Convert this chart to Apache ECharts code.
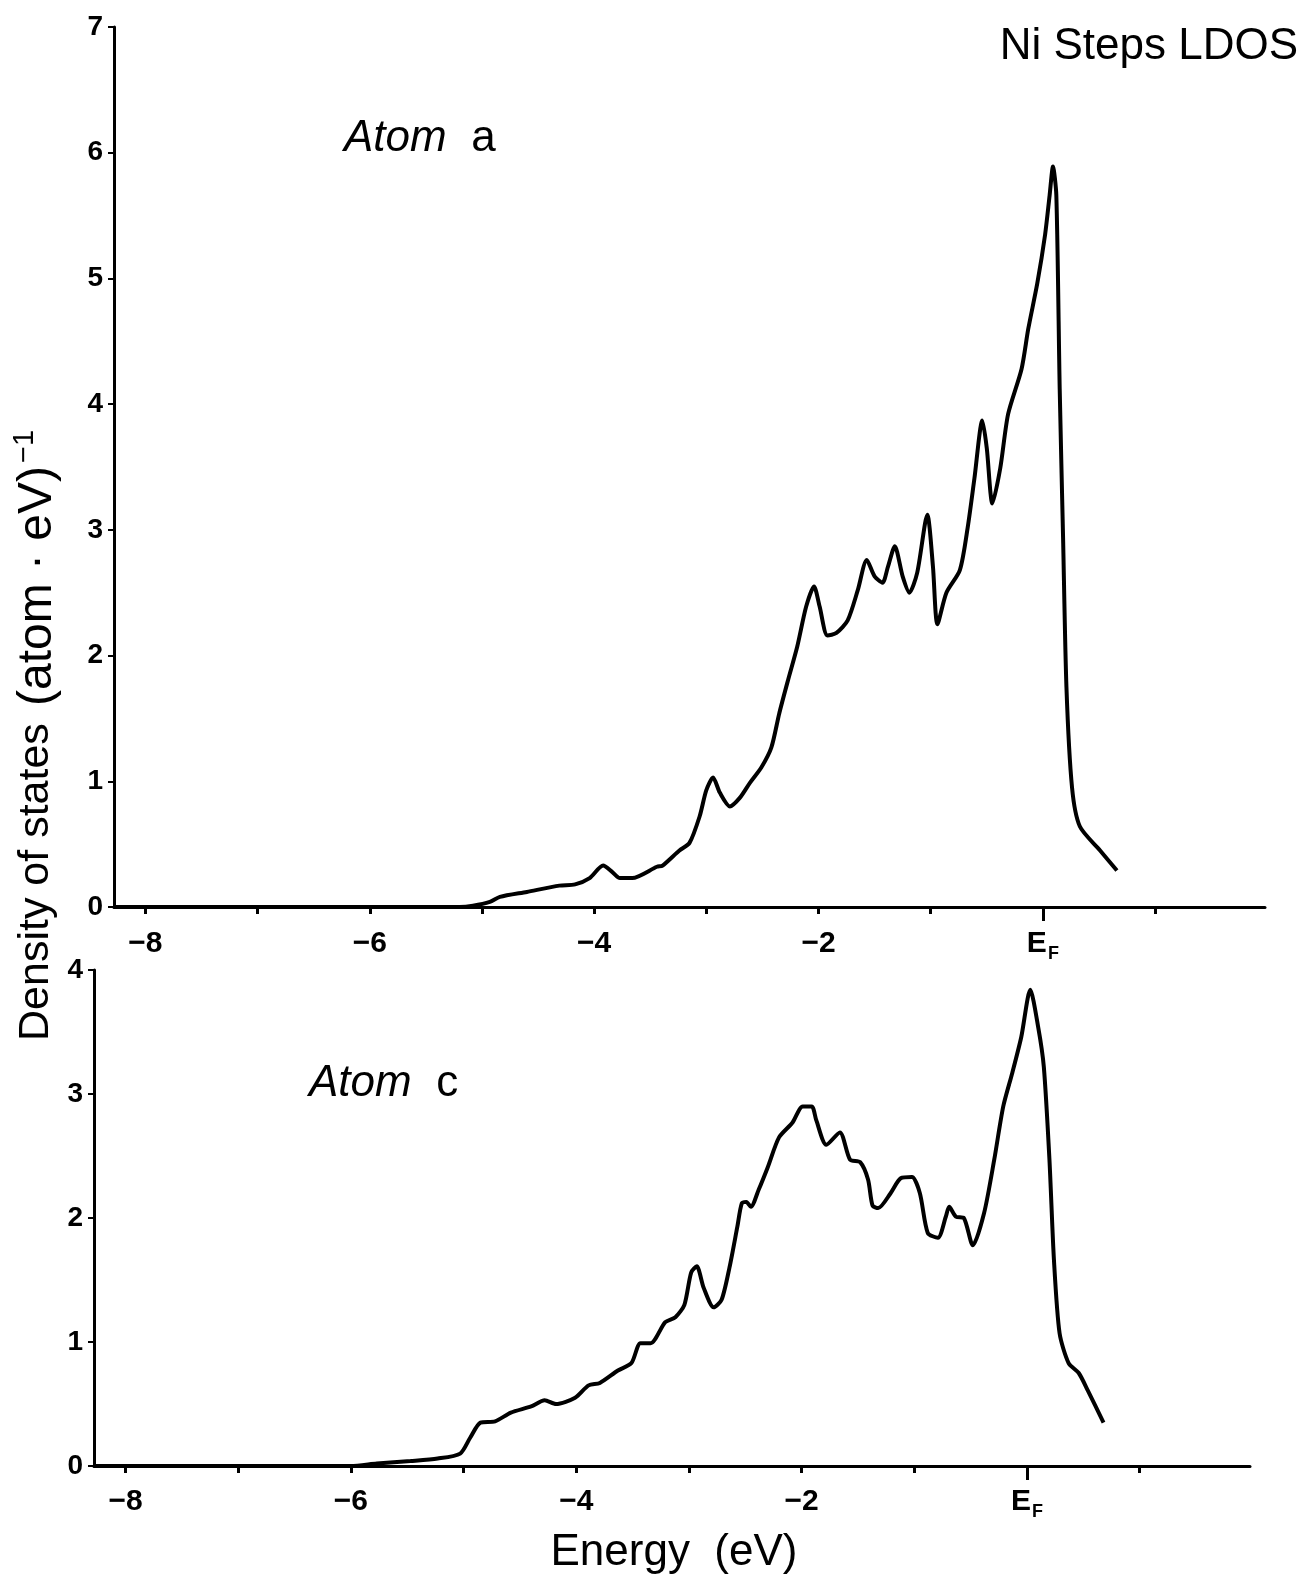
<!DOCTYPE html>
<html>
<head>
<meta charset="utf-8">
<script src="https://cdn.jsdelivr.net/npm/echarts@6/dist/echarts.min.js"></script>
<style>
html,body{margin:0;padding:0;background:#fff;}
#c{width:1307px;height:1578px;}
</style>
</head>
<body>
<div id="c"></div>
<script>
// ---- data ----
const topE = [-8.28, -5.2, -5.08, -4.93, -4.84, -4.6, -4.31, -4.17, -4.04, -3.92, -3.84, -3.77, -3.66, -3.44, -3.39, -3.24, -3.15, -3.06, -3.0, -2.94, -2.88, -2.79, -2.7, -2.61, -2.51, -2.42, -2.35, -2.27, -2.19, -2.11, -2.04, -1.99, -1.92, -1.84, -1.74, -1.65, -1.57, -1.5, -1.43, -1.38, -1.32, -1.25, -1.19, -1.12, -1.03, -0.98, -0.94, -0.86, -0.74, -0.67, -0.61, -0.54, -0.5, -0.45, -0.38, -0.31, -0.19, -0.13, -0.05, 0.02, 0.06, 0.09, 0.12, 0.15, 0.18, 0.21, 0.26, 0.33, 0.51, 0.66];
const topDOS = [0, 0, 0.01, 0.04, 0.08, 0.12, 0.17, 0.18, 0.23, 0.33, 0.28, 0.23, 0.23, 0.32, 0.33, 0.45, 0.51, 0.72, 0.93, 1.03, 0.91, 0.80, 0.87, 0.99, 1.11, 1.27, 1.54, 1.81, 2.07, 2.39, 2.55, 2.39, 2.16, 2.18, 2.28, 2.52, 2.76, 2.63, 2.58, 2.71, 2.87, 2.63, 2.50, 2.66, 3.12, 2.71, 2.25, 2.50, 2.68, 3.02, 3.41, 3.87, 3.65, 3.21, 3.49, 3.92, 4.28, 4.60, 4.96, 5.35, 5.66, 5.89, 5.66, 4.12, 2.94, 1.75, 0.95, 0.64, 0.45, 0.29];

const botE = [-8.27, -6.0, -5.77, -5.47, -5.23, -5.03, -4.94, -4.85, -4.72, -4.58, -4.40, -4.28, -4.18, -4.01, -3.89, -3.79, -3.63, -3.51, -3.43, -3.34, -3.21, -3.12, -3.04, -2.98, -2.93, -2.87, -2.78, -2.71, -2.64, -2.57, -2.53, -2.49, -2.45, -2.38, -2.30, -2.20, -2.08, -1.99, -1.91, -1.87, -1.78, -1.66, -1.57, -1.48, -1.41, -1.37, -1.32, -1.21, -1.12, -1.02, -0.95, -0.88, -0.79, -0.72, -0.69, -0.63, -0.56, -0.48, -0.38, -0.29, -0.21, -0.13, -0.05, 0.03, 0.10, 0.15, 0.20, 0.24, 0.29, 0.37, 0.46, 0.54, 0.68];
const botDOS = [0, 0, 0.02, 0.04, 0.06, 0.10, 0.23, 0.35, 0.36, 0.43, 0.48, 0.53, 0.50, 0.55, 0.65, 0.67, 0.77, 0.83, 0.99, 0.99, 1.16, 1.20, 1.30, 1.56, 1.61, 1.44, 1.28, 1.34, 1.60, 1.93, 2.12, 2.13, 2.09, 2.23, 2.41, 2.65, 2.77, 2.90, 2.90, 2.79, 2.59, 2.69, 2.47, 2.45, 2.31, 2.10, 2.08, 2.20, 2.32, 2.33, 2.20, 1.88, 1.84, 2.01, 2.09, 2.01, 2.00, 1.78, 2.04, 2.47, 2.90, 3.17, 3.46, 3.84, 3.54, 3.22, 2.47, 1.66, 1.07, 0.83, 0.75, 0.61, 0.35];

const xTicks = [-8, -7, -6, -5, -4, -3, -2, -1, 0, 1];
const xLabels = [-8, -6, -4, -2, 0];
const topYTicks = [0, 1, 2, 3, 4, 5, 6, 7];
const botYTicks = [0, 1, 2, 3, 4];

const title = 'Ni Steps LDOS';
const yTitleA = 'Density of states';
const yTitleB = '(atom \u00b7 eV)';
const xTitle = 'Energy  (eV)';

// ---- chart ----
const FONT = '"Liberation Sans", Arial, sans-serif';
const chart = echarts.init(document.getElementById('c'), null, {renderer: 'canvas'});

function fmtX(v) {
  if (Math.abs(v) < 1e-9) return '{e|E}{f|F}';
  return v < 0 ? '\u2212' + (-v) : String(v);
}
function xAxisCfg(gi, margin) {
  return {
    type: 'value', gridIndex: gi, min: -8.28, max: 1.98, position: 'bottom',
    axisLine: {show: true, onZero: false, lineStyle: {color: '#000', width: 3}},
    splitLine: {show: false},
    axisTick: {show: true, inside: false, length: 7, customValues: xTicks, lineStyle: {color: '#000', width: 3}},
    axisLabel: {
      show: true, customValues: xLabels, margin: margin, formatter: fmtX,
      color: '#000', fontFamily: FONT, fontSize: 30, fontWeight: 'bold',
      rich: {
        e: {fontSize: 30, fontWeight: 'bold', fontFamily: FONT, color: '#000', verticalAlign: 'top', lineHeight: 32},
        f: {fontSize: 18, fontWeight: 'bold', fontFamily: FONT, color: '#000', verticalAlign: 'top', padding: [16, 0, 0, 1], lineHeight: 18}
      }
    }
  };
}
function xAxisEF(gi) {
  return {
    type: 'value', gridIndex: gi, min: -8.28, max: 1.98, position: 'bottom', offset: 0,
    axisLine: {show: false, onZero: false}, splitLine: {show: false},
    axisTick: {show: true, length: 14, customValues: [0], lineStyle: {color: '#000', width: 3}},
    axisLabel: {show: false}
  };
}
function yAxisCfg(gi, max, ticks) {
  return {
    type: 'value', gridIndex: gi, min: 0, max: max, interval: 1, position: 'left',
    axisLine: {show: true, onZero: false, lineStyle: {color: '#000', width: 3}},
    splitLine: {show: false},
    axisTick: {show: true, length: 6, customValues: ticks, lineStyle: {color: '#000', width: 2}},
    axisLabel: {show: true, customValues: ticks, margin: 11, color: '#000', fontFamily: FONT, fontSize: 28, fontWeight: 'bold'}
  };
}

const option = {
  backgroundColor: '#fff',
  animation: false,
  grid: [
    {left: 114, top: 27, width: 1151, height: 880},
    {left: 94, top: 970, width: 1156, height: 496}
  ],
  xAxis: [xAxisCfg(0, 22), xAxisCfg(1, 21), xAxisEF(0), xAxisEF(1)],
  yAxis: [yAxisCfg(0, 7, topYTicks), yAxisCfg(1, 4, botYTicks)],
  series: [
    {type: 'line', xAxisIndex: 0, yAxisIndex: 0, data: topE.map((e, i) => [e, topDOS[i]]),
     showSymbol: false, smooth: 0.25, lineStyle: {color: '#000', width: 4}},
    {type: 'line', xAxisIndex: 1, yAxisIndex: 1, data: botE.map((e, i) => [e, botDOS[i]]),
     showSymbol: false, smooth: 0.25, lineStyle: {color: '#000', width: 4}}
  ],
  graphic: [
    {type: 'text', x: 1298, y: 47, style: {text: title, font: '44px ' + FONT, fill: '#000', align: 'right', verticalAlign: 'middle'}},
    {type: 'text', x: 344, y: 139, style: {text: '{i|Atom\u00a0\u00a0}{n|a}', fill: '#000', align: 'left', verticalAlign: 'middle',
      rich: {i: {fontSize: 44, fontStyle: 'italic', fontFamily: FONT}, n: {fontSize: 44, fontFamily: FONT}}}},
    {type: 'text', x: 309, y: 1084, style: {text: '{i|Atom\u00a0\u00a0}{n|c}', fill: '#000', align: 'left', verticalAlign: 'middle',
      rich: {i: {fontSize: 44, fontStyle: 'italic', fontFamily: FONT}, n: {fontSize: 44, fontFamily: FONT}}}},
    {type: 'text', x: 36, y: 1041, rotation: Math.PI / 2,
      style: {text: yTitleA, font: '43px ' + FONT, fill: '#000', align: 'left', verticalAlign: 'middle'}},
    {type: 'text', x: 36, y: 706, rotation: Math.PI / 2,
      style: {text: '{a|' + yTitleB + '}{s|\u22121}', fill: '#000', align: 'left', verticalAlign: 'middle',
        rich: {a: {fontSize: 48, fontFamily: FONT, verticalAlign: 'bottom', lineHeight: 52},
               s: {fontSize: 29, fontFamily: FONT, verticalAlign: 'top', lineHeight: 29, padding: [0, 0, 25, 3]}}}},
    {type: 'text', x: 674, y: 1553, style: {text: xTitle, font: '44px ' + FONT, fill: '#000', align: 'center', verticalAlign: 'middle'}}
  ]
};
chart.setOption(option);
</script>
</body>
</html>
